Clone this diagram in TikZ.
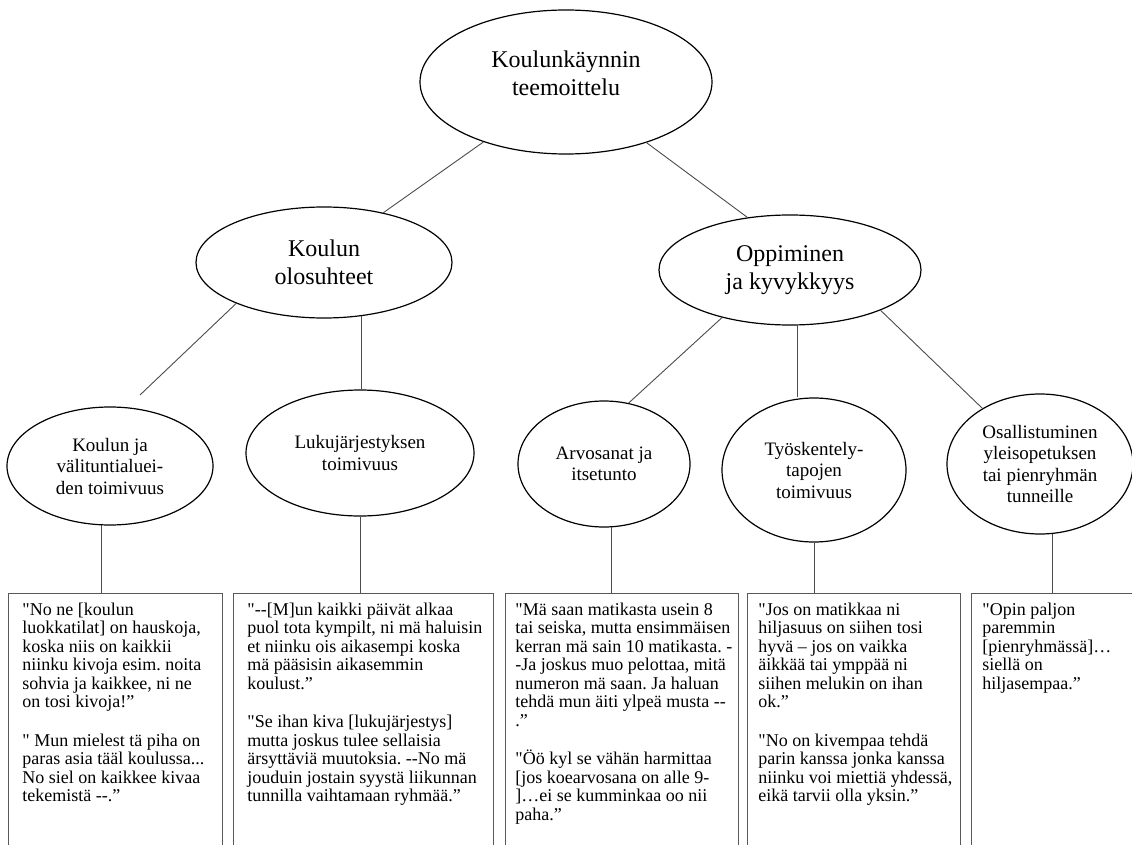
\documentclass[tikz,border=0pt]{standalone}
\usepackage{fontspec}
\setmainfont{Liberation Serif}[Ligatures=TeXOff]
\usetikzlibrary{shapes.geometric}

% quotation text: lines broken by hand, set top-aligned inside a box of
% fixed width (long lines may run slightly past it, never re-wrap)
\newcommand{\quotepar}[2]{%
  \makebox[#1][l]{\parbox[t][300pt][t]{400pt}{\raggedright\frenchspacing
    \fontsize{18}{18.5}\selectfont\strut #2}}}

\tikzset{
  theme/.style={ellipse, draw=black, line width=1.2pt, fill=white,
                inner sep=0pt, align=center},
  toptext/.style={font=\fontsize{24}{28}\selectfont, align=center},
  subtext/.style={font=\fontsize{19}{21.5}\selectfont},
  link/.style={draw=black!70, line width=0.9pt},
  quotebox/.style={draw=black!65, line width=0.9pt, anchor=north west,
                   inner ysep=9pt},
}

\begin{document}
\begin{tikzpicture}[x=1pt, y=-1pt]
\useasboundingbox (0,0) rectangle (1132,845);
\fill[white] (0,0) rectangle (1132,845);
\clip (0,0) rectangle (1132,845);

% main theme
\node[theme, minimum width=292pt, minimum height=144pt] (root) at (566,82) {};
\node[toptext] (rootlbl) at (566,73) {Koulunkäynnin\\teemoittelu};

% second level
\node[theme, toptext, minimum width=256pt, minimum height=111pt] (kol) at (324,262.5) {Koulun\\olosuhteet};
\node[theme, toptext, minimum width=262pt, minimum height=110pt] (opp) at (790,270) {Oppiminen\\ja kyvykkyys};

% third level
\node[theme, subtext, minimum width=206pt, minimum height=118pt] (koulu) at (110,466) {Koulun ja\\välituntialuei-\\den toimivuus};
\node[theme, subtext, minimum width=228pt, minimum height=126pt] (luku) at (360,453) {Lukujärjestyksen\\toimivuus};
\node[theme, subtext, minimum width=172pt, minimum height=126pt] (arv) at (604,464) {Arvosanat ja\\itsetunto};
\node[theme, subtext, minimum width=184pt, minimum height=144pt] (tyo) at (814,470) {Työskentely-\\tapojen\\toimivuus};
\node[theme, subtext, minimum width=186pt, minimum height=140pt] (osa) at (1040,464) {Osallistuminen\\yleisopetuksen\\tai pienryhmän\\tunneille};

% quotation boxes
\node[quotebox, inner xsep=14pt] (b1) at (8,593) {\quotepar{186pt}{%
"No ne [koulun\\
luokkatilat] on hauskoja,\\
koska niis on kaikkii\\
niinku kivoja esim. noita\\
sohvia ja kaikkee, ni ne\\
on tosi kivoja!”\\[20pt]
" Mun mielest tä piha on\\
paras asia tääl koulussa...\\
No siel on kaikkee kivaa\\
tekemistä --.”}};

\node[quotebox, inner xsep=14pt] (b2) at (233,593) {\quotepar{232pt}{%
"--[M]un kaikki päivät alkaa\\
puol tota kympilt, ni mä haluisin\\
et niinku ois aikasempi koska\\
mä pääsisin aikasemmin\\
koulust.”\\[20pt]
"Se ihan kiva [lukujärjestys]\\
mutta joskus tulee sellaisia\\
ärsyttäviä muutoksia. --No mä\\
jouduin jostain syystä liikunnan\\
tunnilla vaihtamaan ryhmää.”}};

\node[quotebox, inner xsep=10pt] (b3) at (505,593) {\quotepar{213pt}{%
"Mä saan matikasta usein 8\\
tai seiska, mutta ensimmäisen\\
kerran mä sain 10 matikasta. -\\
-Ja joskus muo pelottaa, mitä\\
numeron mä saan. Ja haluan\\
tehdä mun äiti ylpeä musta --\\
.”\\[20pt]
"Öö kyl se vähän harmittaa\\
{}[jos koearvosana on alle 9-\\
]…ei se kumminkaa oo nii\\
paha.”}};

\node[quotebox, inner xsep=11pt] (b4) at (747,593) {\quotepar{191pt}{%
"Jos on matikkaa ni\\
hiljasuus on siihen tosi\\
hyvä – jos on vaikka\\
äikkää tai ymppää ni\\
siihen melukin on ihan\\
ok.”\\[20pt]
"No on kivempaa tehdä\\
parin kanssa jonka kanssa\\
niinku voi miettiä yhdessä,\\
eikä tarvii olla yksin.”}};

\node[quotebox, inner xsep=11pt] (b5) at (971,593) {\quotepar{152pt}{%
"Opin paljon\\
paremmin\\
{}[pienryhmässä]…\\
siellä on\\
hiljasempaa.”}};

% connectors between themes
\coordinate (kouluTip) at (140,395);
\draw[link] (root.216) -- (kol.40);
\draw[link] (root.323) -- (opp.129);
\draw[link] (kol.205) -- (kouluTip);
\draw[link] (kol.305) -- (kol.305 |- luku.north);
\draw[link] (opp.215) -- (arv.68);
\draw[link] (opp.278) -- (opp.278 |- tyo.north);
\draw[link] (opp.336) -- (osa.136);

% connectors from themes to quotations
\draw[link] (koulu.262) -- (koulu.262 |- b1.north);
\draw[link] (luku.south) -- (luku.south |- b2.north);
\draw[link] (arv.277) -- (arv.277 |- b3.north);
\draw[link] (tyo.south) -- (tyo.south |- b4.north);
\draw[link] (osa.280) -- (osa.280 |- b5.north);
\end{tikzpicture}
\end{document}
